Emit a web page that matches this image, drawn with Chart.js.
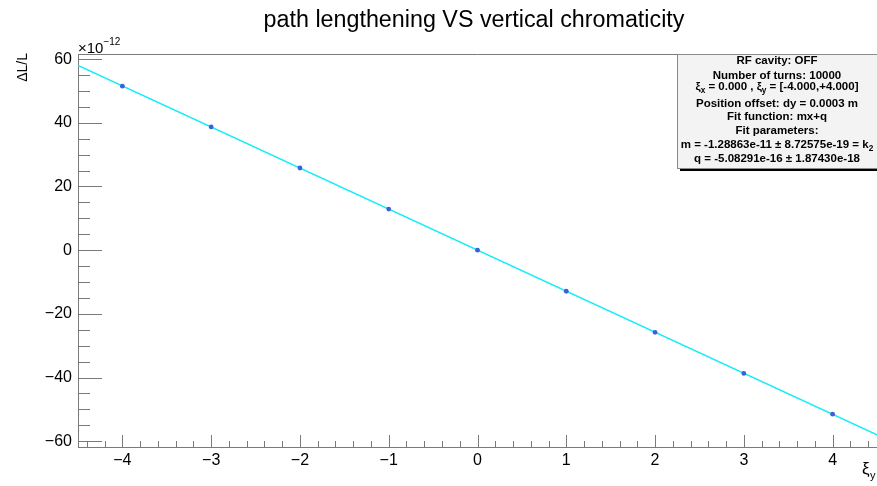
<!DOCTYPE html>
<html>
<head>
<meta charset="utf-8">
<script src="https://cdn.jsdelivr.net/npm/chart.js@4.4.1/dist/chart.umd.min.js"></script>
<style>
  html, body { margin: 0; padding: 0; background: #fff; }
  #wrap { width: 877px; height: 486px; }
</style>
</head>
<body>
<div id="wrap"><canvas id="chart" width="877" height="486"></canvas></div>
<script>
// path lengthening (x 1e-12) against vertical chromaticity
const chromaticity = [-4, -3, -2, -1, 0, 1, 2, 3, 4];
const pathLengthening = [51.5, 38.7, 25.8, 12.9, 0.0, -12.9, -25.8, -38.7, -51.5];
const fitX = [-4.5, 4.5];
const fitY = [58.0, -58.0];
const xTicks = [-4, -3, -2, -1, 0, 1, 2, 3, 4];
const yTicks = [-60, -40, -20, 0, 20, 40, 60];

const FONT = "'Liberation Sans', Arial, Helvetica, sans-serif";
const AXIS_COLOR = '#7a7a7a';

// stats box lines as [text, 'sub'] segments
const statsLines = [
  [['RF cavity: OFF']],
  [['Number of turns: 10000']],
  [['\u03be'], ['x', 'sub'], [' = 0.000 , '], ['\u03be'], ['y', 'sub'], [' = [-4.000,+4.000]']],
  [['Position offset: dy = 0.0003 m']],
  [['Fit function: mx+q']],
  [['Fit parameters:']],
  [['m = -1.28863e-11 \u00b1 8.72575e-19 = k'], ['2', 'sub']],
  [['q = -5.08291e-16 \u00b1 1.87430e-18']]
];
const statsY = [60.5, 75.5, 87, 103.5, 116.5, 131, 145, 159];

const minus = v => String(v).replace('-', '\u2212');

// draws a line of text with subscript pieces, centred on cx
function drawRich(ctx, segs, cx, cy, size, weight) {
  const fontFor = s => `${weight} ${s === 'sub' ? size * 0.72 : size}px ${FONT}`;
  let total = 0;
  segs.forEach(([t, s]) => { ctx.font = fontFor(s); total += ctx.measureText(t).width; });
  let x = cx - total / 2;
  ctx.textAlign = 'left';
  ctx.textBaseline = 'middle';
  segs.forEach(([t, s]) => {
    ctx.font = fontFor(s);
    ctx.fillText(t, x, s === 'sub' ? cy + size * 0.3 : cy);
    x += ctx.measureText(t).width;
  });
}

// inward-pointing major/minor ticks and the frame top edge
const frameTicks = {
  id: 'frameTicks',
  beforeDatasetsDraw(chart) {
    const { ctx, chartArea: a, scales: { x, y } } = chart;
    ctx.save();
    ctx.strokeStyle = AXIS_COLOR;
    ctx.lineWidth = 1;
    ctx.beginPath();
    for (let v = -4.4; v <= 4.41; v += 0.2) {
      const major = Math.abs(v - Math.round(v)) < 1e-6;
      const px = Math.round(x.getPixelForValue(v)) + 0.5;
      ctx.moveTo(px, a.bottom);
      ctx.lineTo(px, a.bottom - (major ? 12 : 6));
    }
    for (let v = -60; v <= 60; v += 5) {
      const major = v % 20 === 0;
      const py = Math.round(y.getPixelForValue(v)) + 0.5;
      ctx.moveTo(a.left, py);
      ctx.lineTo(a.left + (major ? 24 : 12), py);
    }
    ctx.moveTo(a.left, a.top + 0.5);
    ctx.lineTo(a.right, a.top + 0.5);
    ctx.stroke();
    ctx.restore();
  },
  afterDraw(chart) {
    const { ctx, chartArea: a } = chart;
    ctx.save();
    ctx.fillStyle = '#000';

    // title
    ctx.font = `23.3px ${FONT}`;
    ctx.textAlign = 'center';
    ctx.textBaseline = 'middle';
    ctx.fillText('path lengthening VS vertical chromaticity', 474, 21);

    // y title, rotated, ending at the top of the axis
    ctx.save();
    ctx.translate(23, 53);
    ctx.rotate(-Math.PI / 2);
    ctx.font = `14px ${FONT}`;
    ctx.textAlign = 'right';
    ctx.textBaseline = 'middle';
    ctx.fillText('\u0394L/L', 0, 0);
    ctx.restore();

    // exponent
    ctx.textAlign = 'left';
    ctx.textBaseline = 'alphabetic';
    ctx.font = `15px ${FONT}`;
    ctx.fillText('\u00d710', a.left, 53);
    const w = ctx.measureText('\u00d710').width;
    ctx.font = `10px ${FONT}`;
    ctx.fillText('\u221212', a.left + w, 45);

    // x title
    ctx.font = `17px ${FONT}`;
    ctx.fillText('\u03be', 862, 474);
    ctx.font = `11px ${FONT}`;
    ctx.fillText('y', 870, 479);

    // stats box with drop shadow, hanging from the frame top
    const bx = 677, by = a.top, bw = 210, bh = 114;
    ctx.fillStyle = '#000';
    ctx.fillRect(bx + 3, by + 3, bw, bh);
    ctx.fillStyle = '#f3f3f3';
    ctx.fillRect(bx, by, bw, bh);
    ctx.strokeStyle = '#8a8a8a';
    ctx.strokeRect(bx + 0.5, by + 0.5, bw, bh);
    ctx.fillStyle = '#000';
    statsLines.forEach((segs, i) => drawRich(ctx, segs, 777, statsY[i], 11.5, 'bold'));
    ctx.restore();
  }
};

const ctx = document.getElementById('chart').getContext('2d');
new Chart(ctx, {
  type: 'scatter',
  data: {
    datasets: [
      {
        label: 'data',
        data: chromaticity.map((c, i) => ({ x: c, y: pathLengthening[i] })),
        backgroundColor: '#3d5fd8',
        borderWidth: 0,
        pointRadius: 2.4
      },
      {
        label: 'fit',
        type: 'line',
        data: fitX.map((c, i) => ({ x: c, y: fitY[i] })),
        borderColor: '#14ecf6',
        borderWidth: 1.5,
        pointRadius: 0,
        fill: false
      }
    ]
  },
  options: {
    responsive: false,
    devicePixelRatio: 1,
    animation: false,
    layout: { autoPadding: false, padding: { top: 54, right: 0, bottom: 0, left: 0 } },
    plugins: { legend: { display: false }, tooltip: { enabled: false }, title: { display: false } },
    scales: {
      x: {
        type: 'linear',
        min: -4.5,
        max: 4.5,
        afterBuildTicks: s => { s.ticks = xTicks.map(v => ({ value: v })); },
        afterFit: s => { s.height = 39; s.paddingLeft = 0; s.paddingRight = 0; },
        grid: { display: false, drawTicks: false },
        border: { display: true, color: AXIS_COLOR, width: 1 },
        ticks: {
          font: { family: FONT, size: 16 },
          color: '#000',
          padding: 4,
          maxRotation: 0,
          callback: v => minus(v)
        }
      },
      y: {
        type: 'linear',
        min: -61.8,
        max: 61.6,
        afterBuildTicks: s => { s.ticks = yTicks.map(v => ({ value: v })); },
        afterFit: s => { s.width = 78; s.paddingTop = 0; s.paddingBottom = 0; },
        grid: { display: false, drawTicks: false },
        border: { display: true, color: AXIS_COLOR, width: 1 },
        ticks: {
          font: { family: FONT, size: 16 },
          color: '#000',
          padding: 6,
          callback: v => minus(v)
        }
      }
    }
  },
  plugins: [frameTicks]
});
</script>
</body>
</html>
